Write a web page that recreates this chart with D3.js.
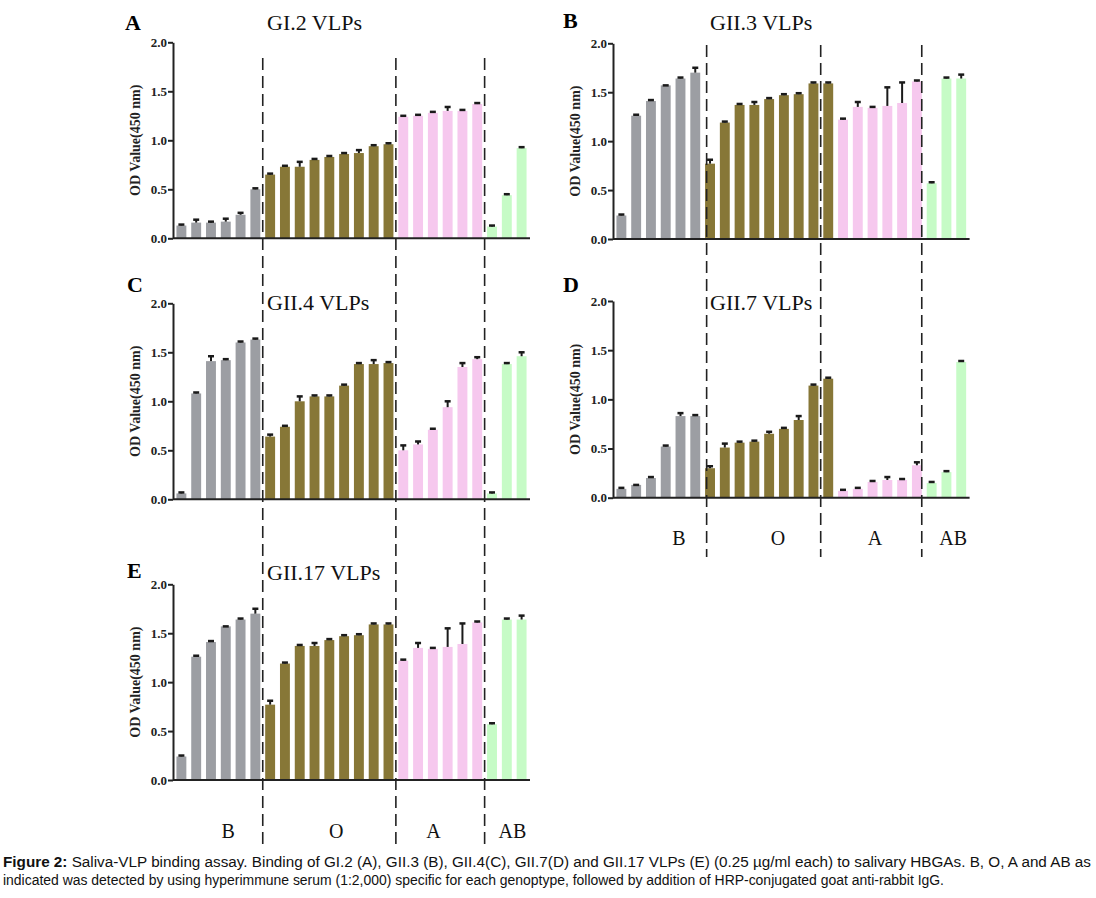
<!DOCTYPE html>
<html>
<head>
<meta charset="utf-8">
<script src="https://cdn.jsdelivr.net/npm/d3@7"></script>
<style>
  body { margin: 0; background: #fff; }
  svg { display: block; }
</style>
</head>
<body>
<div id="chart"></div>
<script>
// blood groups and how many saliva samples fall in each
var groups = ["B", "O", "A", "AB"];
var groupSizes = [6, 9, 6, 3];
var yTicks = [0, 0.5, 1.0, 1.5, 2.0];

// OD values, one array per VLP genotype
var gi2Values   = [0.13, 0.16, 0.16, 0.17, 0.24, 0.50,  0.65, 0.73, 0.73, 0.80, 0.83, 0.86, 0.87, 0.94, 0.96,  1.24, 1.25, 1.28, 1.30, 1.30, 1.37,  0.12, 0.44, 0.92];
var gi2Errors   = [0.01, 0.03, 0.01, 0.03, 0.02, 0.01,  0.01, 0.01, 0.05, 0.01, 0.01, 0.01, 0.03, 0.01, 0.01,  0.01, 0.01, 0.01, 0.04, 0.01, 0.01,  0.01, 0.01, 0.01];
var gii3Values  = [0.24, 1.26, 1.41, 1.57, 1.64, 1.70,  0.77, 1.19, 1.37, 1.37, 1.43, 1.47, 1.48, 1.59, 1.59,  1.22, 1.35, 1.34, 1.36, 1.39, 1.61,  0.57, 1.64, 1.64];
var gii3Errors  = [0.01, 0.01, 0.01, 0.00, 0.01, 0.05,  0.04, 0.01, 0.01, 0.03, 0.01, 0.01, 0.01, 0.01, 0.01,  0.01, 0.05, 0.01, 0.19, 0.21, 0.01,  0.01, 0.01, 0.04];
var gii4Values  = [0.06, 1.08, 1.41, 1.42, 1.60, 1.63,  0.64, 0.74, 1.00, 1.05, 1.05, 1.16, 1.38, 1.38, 1.39,  0.50, 0.56, 0.71, 0.94, 1.35, 1.43,  0.06, 1.38, 1.46];
var gii4Errors  = [0.01, 0.01, 0.05, 0.01, 0.01, 0.01,  0.02, 0.01, 0.05, 0.01, 0.01, 0.01, 0.01, 0.04, 0.01,  0.05, 0.03, 0.01, 0.06, 0.04, 0.02,  0.01, 0.01, 0.04];
var gii7Values  = [0.09, 0.13, 0.20, 0.52, 0.83, 0.83,  0.30, 0.51, 0.56, 0.57, 0.65, 0.70, 0.79, 1.14, 1.21,  0.07, 0.09, 0.16, 0.18, 0.18, 0.33,  0.15, 0.26, 1.38];
var gii7Errors  = [0.01, 0.00, 0.01, 0.01, 0.03, 0.01,  0.02, 0.04, 0.01, 0.01, 0.02, 0.01, 0.04, 0.01, 0.01,  0.01, 0.01, 0.01, 0.03, 0.01, 0.03,  0.01, 0.01, 0.01];
var gii17Values = [0.24, 1.26, 1.41, 1.57, 1.64, 1.70,  0.77, 1.19, 1.37, 1.37, 1.43, 1.47, 1.48, 1.59, 1.59,  1.22, 1.35, 1.34, 1.36, 1.39, 1.61,  0.57, 1.64, 1.64];
var gii17Errors = [0.01, 0.01, 0.01, 0.00, 0.01, 0.05,  0.04, 0.01, 0.01, 0.03, 0.01, 0.01, 0.01, 0.01, 0.01,  0.01, 0.05, 0.01, 0.19, 0.21, 0.01,  0.01, 0.01, 0.04];

// separators and group labels, in bar units (bar i sits at i)
var leftSeparators  = [5.5, 14.5, 20.5];
var rightSeparators = [5.77, 13.49, 20.33];
var leftLabelPos    = [3.16, 10.47, 17.04, 22.38];
var rightLabelPos   = [3.89, 10.6, 17.16, 22.45];

var colors = ["#9c9ea3", "#877737", "#f6c8ee", "#c6fbc6"];

var width = 1096, height = 898;
var svg = d3.select("#chart").append("svg")
    .attr("width", width)
    .attr("height", height);

var serif = "'Liberation Serif', 'Times New Roman', serif";

var leftCol  = {x0: 174, x1: 529};
var rightCol = {x0: 614, x1: 968.6};

var panels = [
  {letter: "A", lx: 125, ly: 30, title: "GI.2 VLPs", tx: 267, ty: 30, col: leftCol, yTop: 42.3, yBot: 238.3, values: gi2Values, errors: gi2Errors},
  {letter: "B", lx: 563, ly: 28, title: "GII.3 VLPs", tx: 710, ty: 30, col: rightCol, yTop: 43.3, yBot: 239, values: gii3Values, errors: gii3Errors},
  {letter: "C", lx: 127, ly: 292, title: "GII.4 VLPs", tx: 267, ty: 310, col: leftCol, yTop: 303.3, yBot: 499.3, values: gii4Values, errors: gii4Errors},
  {letter: "D", lx: 563, ly: 292, title: "GII.7 VLPs", tx: 710, ty: 310, col: rightCol, yTop: 301, yBot: 497.7, values: gii7Values, errors: gii7Errors},
  {letter: "E", lx: 127, ly: 578, title: "GII.17 VLPs", tx: 267, ty: 580, col: leftCol, yTop: 584.3, yBot: 780, values: gii17Values, errors: gii17Errors}
];

// colour of each bar from its group
var barGroup = [];
groupSizes.forEach(function(n, g) {
  for (var k = 0; k < n; k++) barGroup.push(g);
});
var idx = d3.range(barGroup.length);

function makeX(col) {
  return d3.scaleBand()
    .domain(idx)
    .range([col.x0, col.x1])
    .paddingInner(0.33)
    .paddingOuter(0.165);
}
// position for fractional bar units
function unitX(x, u) {
  return x.range()[0] + x.step() * (u + 0.5);
}

panels.forEach(function(p) {
  var x = makeX(p.col);
  var y = d3.scaleLinear().domain([0, 2]).range([p.yBot, p.yTop]);
  var g = svg.append("g");

  g.selectAll(".bar")
    .data(p.values)
    .enter()
    .append("rect")
      .attr("x", function(d, i) { return x(i); })
      .attr("y", function(d) { return y(d); })
      .attr("width", x.bandwidth())
      .attr("height", function(d) { return y(0) - y(d); })
      .style("fill", function(d, i) { return colors[barGroup[i]]; });

  // error bars (upper whisker only)
  var err = g.selectAll(".err")
    .data(p.values)
    .enter()
    .append("g");
  err.append("line")
    .attr("x1", function(d, i) { return x(i) + x.bandwidth() / 2; })
    .attr("x2", function(d, i) { return x(i) + x.bandwidth() / 2; })
    .attr("y1", function(d) { return y(d); })
    .attr("y2", function(d, i) { return y(d + p.errors[i]); })
    .style("stroke", "#1a1a1a")
    .style("stroke-width", 2);
  err.append("line")
    .attr("x1", function(d, i) { return x(i) + x.bandwidth() / 2 - 3; })
    .attr("x2", function(d, i) { return x(i) + x.bandwidth() / 2 + 3; })
    .attr("y1", function(d, i) { return y(d + p.errors[i]); })
    .attr("y2", function(d, i) { return y(d + p.errors[i]); })
    .style("stroke", "#1a1a1a")
    .style("stroke-width", 2.5);

  var axisX = p.col.x0 - 1;
  var yAxis = g.append("g")
    .attr("transform", "translate(" + axisX + ",0)")
    .call(d3.axisLeft(y).tickValues(yTicks).tickFormat(d3.format(".1f")).tickSize(5).tickSizeOuter(0));
  yAxis.select(".domain").style("stroke", "#222").style("stroke-width", 2);
  yAxis.selectAll(".tick line").style("stroke", "#222").style("stroke-width", 2);
  yAxis.selectAll(".tick text")
    .style("font-family", serif)
    .style("font-weight", "bold")
    .style("font-size", "13px")
    .style("fill", "#222")
    .attr("x", -6);

  g.append("line")
    .attr("x1", axisX)
    .attr("x2", p.col.x1 + 1)
    .attr("y1", y(0))
    .attr("y2", y(0))
    .style("stroke", "#222")
    .style("stroke-width", 2);

  g.append("text")
    .attr("transform", "translate(" + (axisX - 33) + "," + ((p.yTop + p.yBot) / 2) + ") rotate(-90)")
    .attr("text-anchor", "middle")
    .style("font-family", serif)
    .style("font-weight", "bold")
    .style("font-size", "14px")
    .style("fill", "#222")
    .text("OD Value(450 nm)");

  g.append("text")
    .attr("x", p.tx)
    .attr("y", p.ty)
    .style("font-family", serif)
    .style("font-size", "22px")
    .style("fill", "#111")
    .text(p.title);

  g.append("text")
    .attr("x", p.lx)
    .attr("y", p.ly)
    .style("font-family", serif)
    .style("font-weight", "bold")
    .style("font-size", "22px")
    .style("fill", "#000")
    .text(p.letter);
});

// dashed group separators and group labels
var xLeft = makeX(leftCol), xRight = makeX(rightCol);

function drawSeparators(x, seps, yFrom, yTo) {
  svg.selectAll(null)
    .data(seps)
    .enter()
    .append("line")
      .attr("x1", function(u) { return unitX(x, u); })
      .attr("x2", function(u) { return unitX(x, u); })
      .attr("y1", yFrom)
      .attr("y2", yTo)
      .style("stroke", "#222")
      .style("stroke-width", 1.6)
      .style("stroke-dasharray", "12,6");
}
drawSeparators(xLeft, leftSeparators, 58, 847);
drawSeparators(xRight, rightSeparators, 45, 557);

function drawGroupLabels(x, pos, yBase) {
  svg.selectAll(null)
    .data(groups)
    .enter()
    .append("text")
      .attr("x", function(d, i) { return unitX(x, pos[i]); })
      .attr("y", yBase)
      .attr("text-anchor", "middle")
      .style("font-family", serif)
      .style("font-size", "20px")
      .style("fill", "#111")
      .text(function(d) { return d; });
}
drawGroupLabels(xLeft, leftLabelPos, 838);
drawGroupLabels(xRight, rightLabelPos, 545);

// caption
var sans = "'Liberation Sans', Arial, sans-serif";
var cap1 = svg.append("text")
    .attr("x", 3).attr("y", 867)
    .attr("textLength", 1088).attr("lengthAdjust", "spacingAndGlyphs")
    .style("font-family", sans).style("font-size", "14px").style("fill", "#111");
cap1.append("tspan").style("font-weight", "bold").text("Figure 2:");
cap1.append("tspan").text(" Saliva-VLP binding assay. Binding of GI.2 (A), GII.3 (B), GII.4(C), GII.7(D) and GII.17 VLPs (E) (0.25 \u00b5g/ml each) to salivary HBGAs. B, O, A and AB as");
svg.append("text")
    .attr("x", 3).attr("y", 885)
    .attr("textLength", 941).attr("lengthAdjust", "spacingAndGlyphs")
    .style("font-family", sans).style("font-size", "14px").style("fill", "#111")
    .text("indicated was detected by using hyperimmune serum (1:2,000) specific for each genoptype, followed by addition of HRP-conjugated goat anti-rabbit IgG.");
</script>
</body>
</html>
